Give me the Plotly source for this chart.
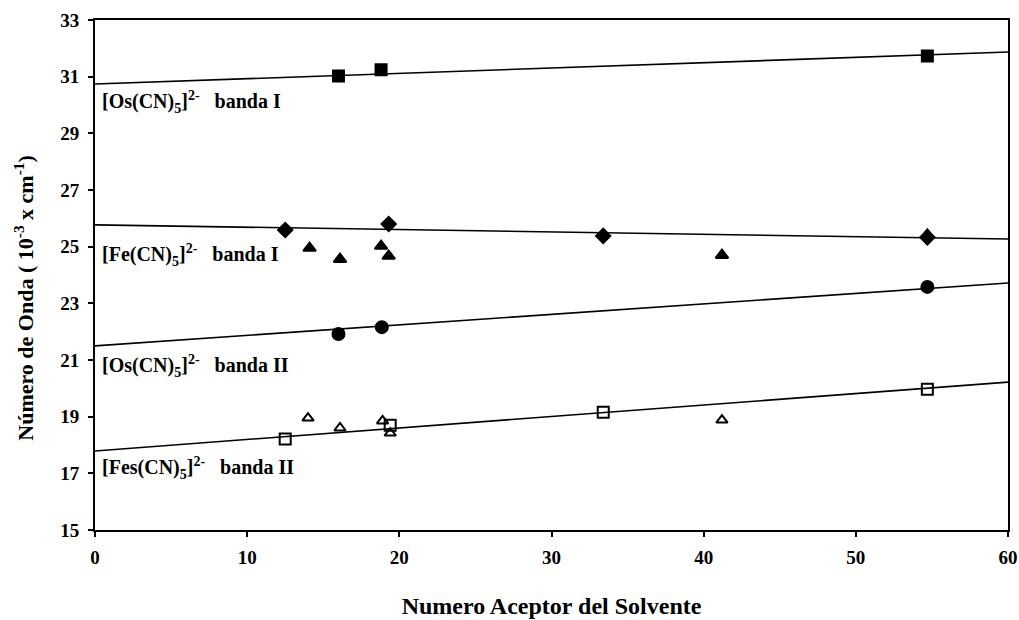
import plotly.graph_objects as go

# Solvent acceptor numbers
os1_x = [16.0, 18.8, 54.7]
os1_y = [31.02, 31.24, 31.73]

fe1_diamond_x = [12.5, 19.3, 33.4, 54.7]
fe1_diamond_y = [25.59, 25.80, 25.38, 25.33]

fe1_tri_x = [14.1, 16.1, 18.8, 19.3, 41.2, 54.7]
fe1_tri_y = [24.95, 24.56, 25.02, 24.67, 24.70, 25.42]

os2_x = [16.0, 18.85, 54.7]
os2_y = [21.92, 22.16, 23.58]

fe2_sq_x = [12.5, 19.4, 33.4, 54.7]
fe2_sq_y = [18.21, 18.70, 19.16, 19.97]

fe2_tri_x = [14.0, 16.1, 18.9, 19.4, 41.2]
fe2_tri_y = [18.95, 18.60, 18.85, 18.42, 18.88]

# Fitted trend lines (x ends, y ends)
line_x = [0, 60]
os1_line = [30.74, 31.87]
fe1_line = [25.77, 25.27]
os2_line = [21.50, 23.72]
fe2_line = [17.79, 20.22]

SP = "&nbsp;&nbsp;&nbsp;"
labels = [
    ("[Os(CN)<sub>5</sub>]<sup>2-</sup>" + SP + "banda I", 30.1),
    ("[Fe(CN)<sub>5</sub>]<sup>2-</sup>" + SP + "banda I", 24.7),
    ("[Os(CN)<sub>5</sub>]<sup>2-</sup>" + SP + "banda II", 20.8),
    ("[Fes(CN)<sub>5</sub>]<sup>2-</sup>" + SP + "banda II", 17.2),
]

FONT = "Times New Roman, Liberation Serif, serif"
fig = go.Figure()

for ly in [os1_line, fe1_line, os2_line, fe2_line]:
    fig.add_trace(go.Scatter(x=line_x, y=ly, mode="lines",
                             line=dict(color="black", width=1.6),
                             showlegend=False, hoverinfo="skip"))

def pts(x, y, symbol, size=12):
    fig.add_trace(go.Scatter(x=x, y=y, mode="markers", showlegend=False,
                             marker=dict(symbol=symbol, size=size, color="black",
                                         line=dict(color="black", width=2))))

pts(os1_x, os1_y, "square", 11)
pts(fe1_diamond_x, fe1_diamond_y, "diamond", 11)
pts(fe1_tri_x, fe1_tri_y, "triangle-up", 11)
pts(os2_x, os2_y, "circle", 12)
pts(fe2_sq_x, fe2_sq_y, "square-open", 11)
pts(fe2_tri_x, fe2_tri_y, "triangle-up-open", 10)

for txt, yv in labels:
    fig.add_annotation(x=0.3, y=yv, xref="x", yref="y", text=txt, showarrow=False,
                       xanchor="left", yanchor="middle",
                       font=dict(family=FONT, size=20, color="black", weight="bold"))

# y-axis title placed as a rotated annotation (slightly below the axis centre, as in the original)
fig.add_annotation(x=-0.078, y=0.455, xref="paper", yref="paper",
                   text="Número de Onda ( 10<sup>-3</sup> x cm<sup>-1</sup>)",
                   textangle=-90, showarrow=False, xanchor="center", yanchor="middle",
                   font=dict(family=FONT, size=22, color="black", weight="bold"))

axis_common = dict(showline=True, linecolor="black", linewidth=2, mirror=True,
                   ticks="outside", ticklen=5, tickwidth=1.5, tickcolor="black",
                   showgrid=False, zeroline=False, automargin=False,
                   tickfont=dict(family=FONT, size=19, color="black", weight="bold"))

fig.update_xaxes(range=[0, 60], tickvals=[0, 10, 20, 30, 40, 50, 60],
                 ticklabelstandoff=4,
                 title=dict(text="Numero Aceptor del Solvente", standoff=30,
                            font=dict(family=FONT, size=24, color="black", weight="bold")),
                 **axis_common)
fig.update_yaxes(range=[15, 33], tickvals=list(range(15, 34, 2)),
                 ticklabelstandoff=5, **axis_common)

fig.update_layout(width=1019, height=620, plot_bgcolor="white", paper_bgcolor="white",
                  margin=dict(l=95, r=11, t=20, b=90))

fig.write_html("out.html")
